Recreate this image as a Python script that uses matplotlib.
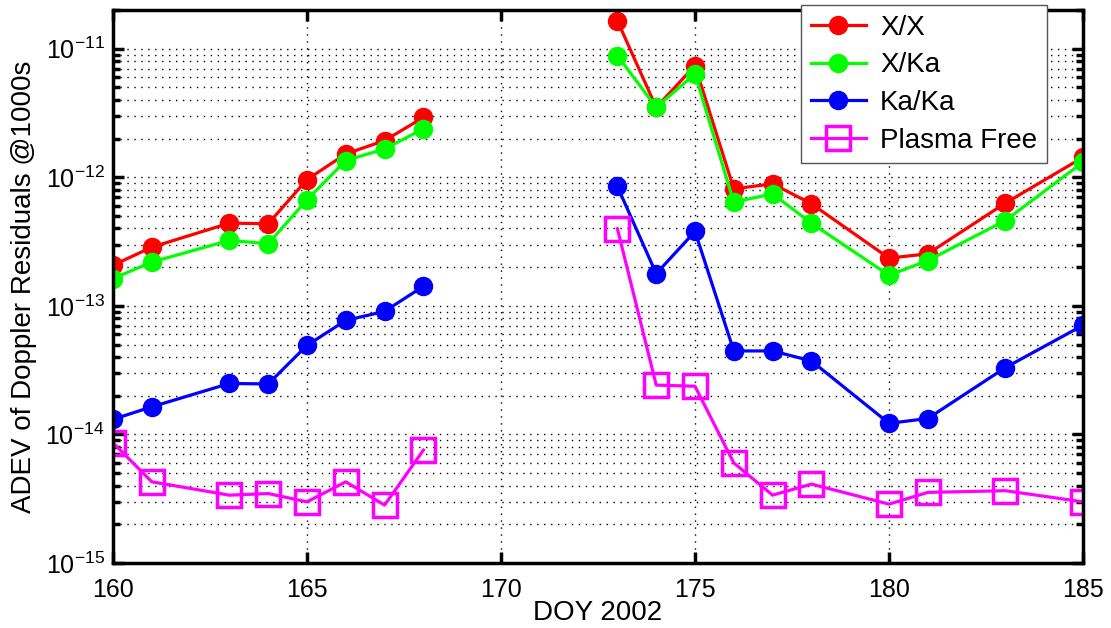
import numpy as np
import matplotlib
matplotlib.use("Agg")
from matplotlib import pyplot as plt
from matplotlib.ticker import FixedLocator, LogLocator

plt.rcParams['font.family'] = ['Liberation Sans', 'DejaVu Sans']
plt.rcParams['mathtext.fontset'] = 'custom'
plt.rcParams['mathtext.rm'] = 'Liberation Sans'
plt.rcParams['mathtext.default'] = 'regular'

#days of year, nan marks the gap between the two passes
doy = [160, 161, 163, 164, 165, 166, 167, 168, np.nan,
       173, 174, 175, 176, 177, 178, 180, 181, 183, 185]

xx = [2.07e-13, 2.86e-13, 4.4e-13, 4.35e-13, 9.6e-13, 1.52e-12, 1.93e-12, 2.92e-12, np.nan,
      1.65e-11, 3.5e-12, 7.38e-12, 8.13e-13, 8.9e-13, 6.22e-13, 2.35e-13, 2.54e-13, 6.3e-13, 1.43e-12]
xka = [1.63e-13, 2.19e-13, 3.23e-13, 3.04e-13, 6.68e-13, 1.35e-12, 1.66e-12, 2.38e-12, np.nan,
       8.82e-12, 3.5e-12, 6.36e-12, 6.4e-13, 7.43e-13, 4.4e-13, 1.73e-13, 2.25e-13, 4.61e-13, 1.31e-12]
kaka = [1.31e-14, 1.64e-14, 2.49e-14, 2.47e-14, 4.93e-14, 7.71e-14, 9.06e-14, 1.42e-13, np.nan,
        8.48e-13, 1.78e-13, 3.79e-13, 4.46e-14, 4.46e-14, 3.73e-14, 1.22e-14, 1.33e-14, 3.31e-14, 7.06e-14]
plasma_free = [8.6e-15, 4.28e-15, 3.37e-15, 3.47e-15, 2.99e-15, 4.28e-15, 2.82e-15, 7.55e-15, np.nan,
               3.98e-13, 2.42e-14, 2.37e-14, 6.0e-15, 3.37e-15, 4.11e-15, 2.87e-15, 3.54e-15, 3.65e-15, 2.99e-15]

yticks = [1e-15, 1e-14, 1e-13, 1e-12, 1e-11]
xticks = [160, 165, 170, 175, 180, 185]

fig = plt.figure(figsize=(11.11, 6.28), dpi=100)
ax = fig.add_axes([113/1111, 1-563/628, 970/1111, 553/628])

lw = 2.3
ax.semilogy(doy, xx, '-o', color='#ff0000', lw=lw, ms=13, label='X/X')
ax.semilogy(doy, xka, '-o', color='#00ff00', lw=lw, ms=13, label='X/Ka')
ax.semilogy(doy, kaka, '-o', color='#0000ff', lw=lw, ms=13, label='Ka/Ka')
ax.semilogy(doy, plasma_free, '-s', color='#ff00ff', lw=lw, ms=17, mfc='none', mew=2.5,
            label='Plasma Free')

ax.set_xlim(160, 185)
ax.set_ylim(1e-15, 2e-11)
ax.set_xticks(xticks)
ax.yaxis.set_major_locator(FixedLocator(yticks))
ax.yaxis.set_minor_locator(LogLocator(base=10, subs=np.arange(2, 10), numticks=20))

#matlab style dotted grid
ax.grid(True, which='major', axis='x', color='k', ls=(0, (1, 4)), lw=1.0)
ax.grid(True, which='both', axis='y', color='k', ls=(0, (1, 4)), lw=1.0)
ax.set_axisbelow(True)

for s in ax.spines.values():
    s.set_linewidth(2.5)
ax.tick_params(which='major', direction='in', length=8, width=2.5, top=True, right=True,
               labelsize=18)
ax.tick_params(axis='x', which='major', pad=11)
ax.tick_params(axis='y', which='major', pad=6)
ax.tick_params(which='minor', direction='in', length=5, width=2.5, top=True, right=True)

ax.set_xlabel('DOY 2002', fontsize=20, labelpad=-2)
ax.set_ylabel('ADEV of Doppler Residuals @1000s', fontsize=20, labelpad=6)

leg = ax.legend(loc='upper right', bbox_to_anchor=(1047/1111, 1-5/628),
                bbox_transform=fig.transFigure, borderaxespad=0, fontsize=20,
                fancybox=False, framealpha=1, edgecolor='#555555',
                handlelength=2.0, labelspacing=0.42, borderpad=0.35, handletextpad=0.5)
leg.get_frame().set_linewidth(1.0)

fig.savefig('out.png', dpi=100)
